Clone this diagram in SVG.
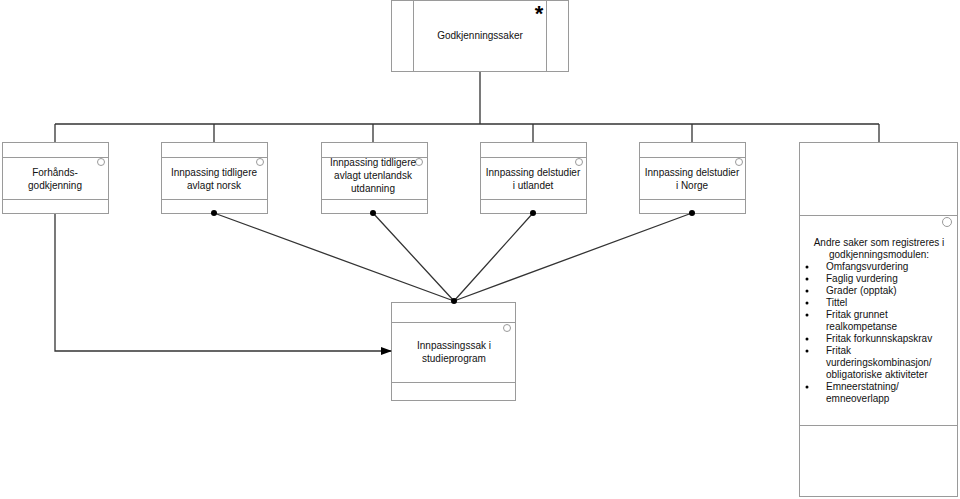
<svg xmlns="http://www.w3.org/2000/svg" width="960" height="499" viewBox="0 0 960 499">
<defs>
<style>
.box{fill:#fff;stroke:#9a9a9a;stroke-width:1}
.div{stroke:#9a9a9a;stroke-width:1}
.c{fill:#fff;stroke:#9a9a9a;stroke-width:1}
.t{font-family:"Liberation Sans",Arial,sans-serif;font-size:10px;fill:#111;text-anchor:middle}
.l{font-family:"Liberation Sans",Arial,sans-serif;font-size:10px;fill:#111}
.e{stroke:#333;stroke-width:1.3;fill:none}
.dot{fill:#000}
</style>
<marker id="arr" markerWidth="11" markerHeight="8" refX="10" refY="4" orient="auto" markerUnits="userSpaceOnUse">
<path d="M0,0 L11,4 L0,8 Z" fill="#000"/>
</marker>
</defs>
<rect width="960" height="499" fill="#fff"/>
<g id="godkjenningssaker">
<rect class="box" x="391.5" y="0.5" width="177" height="71"/>
<line class="div" x1="413.5" y1="0.5" x2="413.5" y2="71.5"/>
<line class="div" x1="546.5" y1="0.5" x2="546.5" y2="71.5"/>
<text x="539" y="21" style="font-family:'Liberation Sans',Arial,sans-serif;font-size:22px;font-weight:bold;fill:#000" text-anchor="middle">*</text>
<text class="t" x="480" y="39">Godkjenningssaker</text>
</g>
<g id="forhands">
<rect class="box" x="2.5" y="142.5" width="106" height="71"/>
<line class="div" x1="2.5" y1="157.5" x2="108.5" y2="157.5"/>
<line class="div" x1="2.5" y1="199.5" x2="108.5" y2="199.5"/>
<circle class="c" cx="101" cy="162" r="3.5"/>
<text class="t" x="55" y="176">Forhånds-</text>
<text class="t" x="55" y="189">godkjenning</text>
</g>
<g id="norsk">
<rect class="box" x="161.5" y="142.5" width="106" height="71"/>
<line class="div" x1="161.5" y1="157.5" x2="267.5" y2="157.5"/>
<line class="div" x1="161.5" y1="199.5" x2="267.5" y2="199.5"/>
<circle class="c" cx="260" cy="162" r="3.5"/>
<text class="t" x="214" y="176">Innpassing tidligere</text>
<text class="t" x="214" y="189">avlagt norsk</text>
</g>
<g id="utenlandsk">
<rect class="box" x="321.5" y="142.5" width="106" height="71"/>
<line class="div" x1="321.5" y1="157.5" x2="427.5" y2="157.5"/>
<line class="div" x1="321.5" y1="199.5" x2="427.5" y2="199.5"/>
<circle class="c" cx="419" cy="162" r="3.5"/>
<text class="t" x="373" y="166">Innpassing tidligere</text>
<text class="t" x="373" y="179">avlagt utenlandsk</text>
<text class="t" x="373" y="192">utdanning</text>
</g>
<g id="utlandet">
<rect class="box" x="480.5" y="142.5" width="106" height="71"/>
<line class="div" x1="480.5" y1="157.5" x2="586.5" y2="157.5"/>
<line class="div" x1="480.5" y1="199.5" x2="586.5" y2="199.5"/>
<circle class="c" cx="579" cy="162" r="3.5"/>
<text class="t" x="533" y="176">Innpassing delstudier</text>
<text class="t" x="533" y="189">i utlandet</text>
</g>
<g id="norge">
<rect class="box" x="639.5" y="142.5" width="106" height="71"/>
<line class="div" x1="639.5" y1="157.5" x2="745.5" y2="157.5"/>
<line class="div" x1="639.5" y1="199.5" x2="745.5" y2="199.5"/>
<circle class="c" cx="739" cy="162" r="3.5"/>
<text class="t" x="692" y="176">Innpassing delstudier</text>
<text class="t" x="692" y="189">i Norge</text>
</g>
<g id="andre">
<rect class="box" x="799.5" y="142.5" width="158" height="354"/>
<line class="div" x1="799.5" y1="215.5" x2="957.5" y2="215.5"/>
<line class="div" x1="799.5" y1="425.5" x2="957.5" y2="425.5"/>
<circle class="c" cx="947" cy="222" r="4.5"/>
<text class="t" x="879" y="246">Andre saker som registreres i</text>
<text class="t" x="879" y="258">godkjenningsmodulen:</text>
<g class="l">
<text x="826" y="270">Omfangsvurdering</text>
<text x="826" y="282">Faglig vurdering</text>
<text x="826" y="294">Grader (opptak)</text>
<text x="826" y="306">Tittel</text>
<text x="826" y="318">Fritak grunnet</text>
<text x="826" y="330">realkompetanse</text>
<text x="826" y="342">Fritak forkunnskapskrav</text>
<text x="826" y="354">Fritak</text>
<text x="826" y="366">vurderingskombinasjon/</text>
<text x="826" y="378">obligatoriske aktiviteter</text>
<text x="826" y="390">Emneerstatning/</text>
<text x="826" y="402">emneoverlapp</text>
</g>
<g fill="#000">
<circle cx="807" cy="267" r="1.5"/>
<circle cx="807" cy="279" r="1.5"/>
<circle cx="807" cy="291" r="1.5"/>
<circle cx="807" cy="303" r="1.5"/>
<circle cx="807" cy="315" r="1.5"/>
<circle cx="807" cy="339" r="1.5"/>
<circle cx="807" cy="351" r="1.5"/>
<circle cx="807" cy="387" r="1.5"/>
</g>
</g>
<g id="innpassingssak">
<rect class="box" x="391.5" y="302.5" width="124" height="98"/>
<line class="div" x1="391.5" y1="322.5" x2="515.5" y2="322.5"/>
<line class="div" x1="391.5" y1="382.5" x2="515.5" y2="382.5"/>
<circle class="c" cx="507" cy="328" r="3.5"/>
<text class="t" x="454" y="349">Innpassingssak i</text>
<text class="t" x="454" y="362">studieprogram</text>
</g>
<g id="connectors">
<path class="e" d="M480,72 V124 M55,124 H879 M55,124 V142 M214,124 V142 M373,124 V142 M533,124 V142 M692,124 V142 M879,124 V142"/>
<path class="e" d="M214,213 L454,301 M373,213 L454,301 M533,213 L454,301 M692,213 L454,301"/>
<circle class="dot" cx="214" cy="213" r="3"/>
<circle class="dot" cx="373" cy="213" r="3"/>
<circle class="dot" cx="533" cy="213" r="3"/>
<circle class="dot" cx="692" cy="213" r="3"/>
<circle class="dot" cx="454" cy="301" r="3"/>
<path class="e" d="M55,214 V351 H391" marker-end="url(#arr)"/>
</g>
</svg>
